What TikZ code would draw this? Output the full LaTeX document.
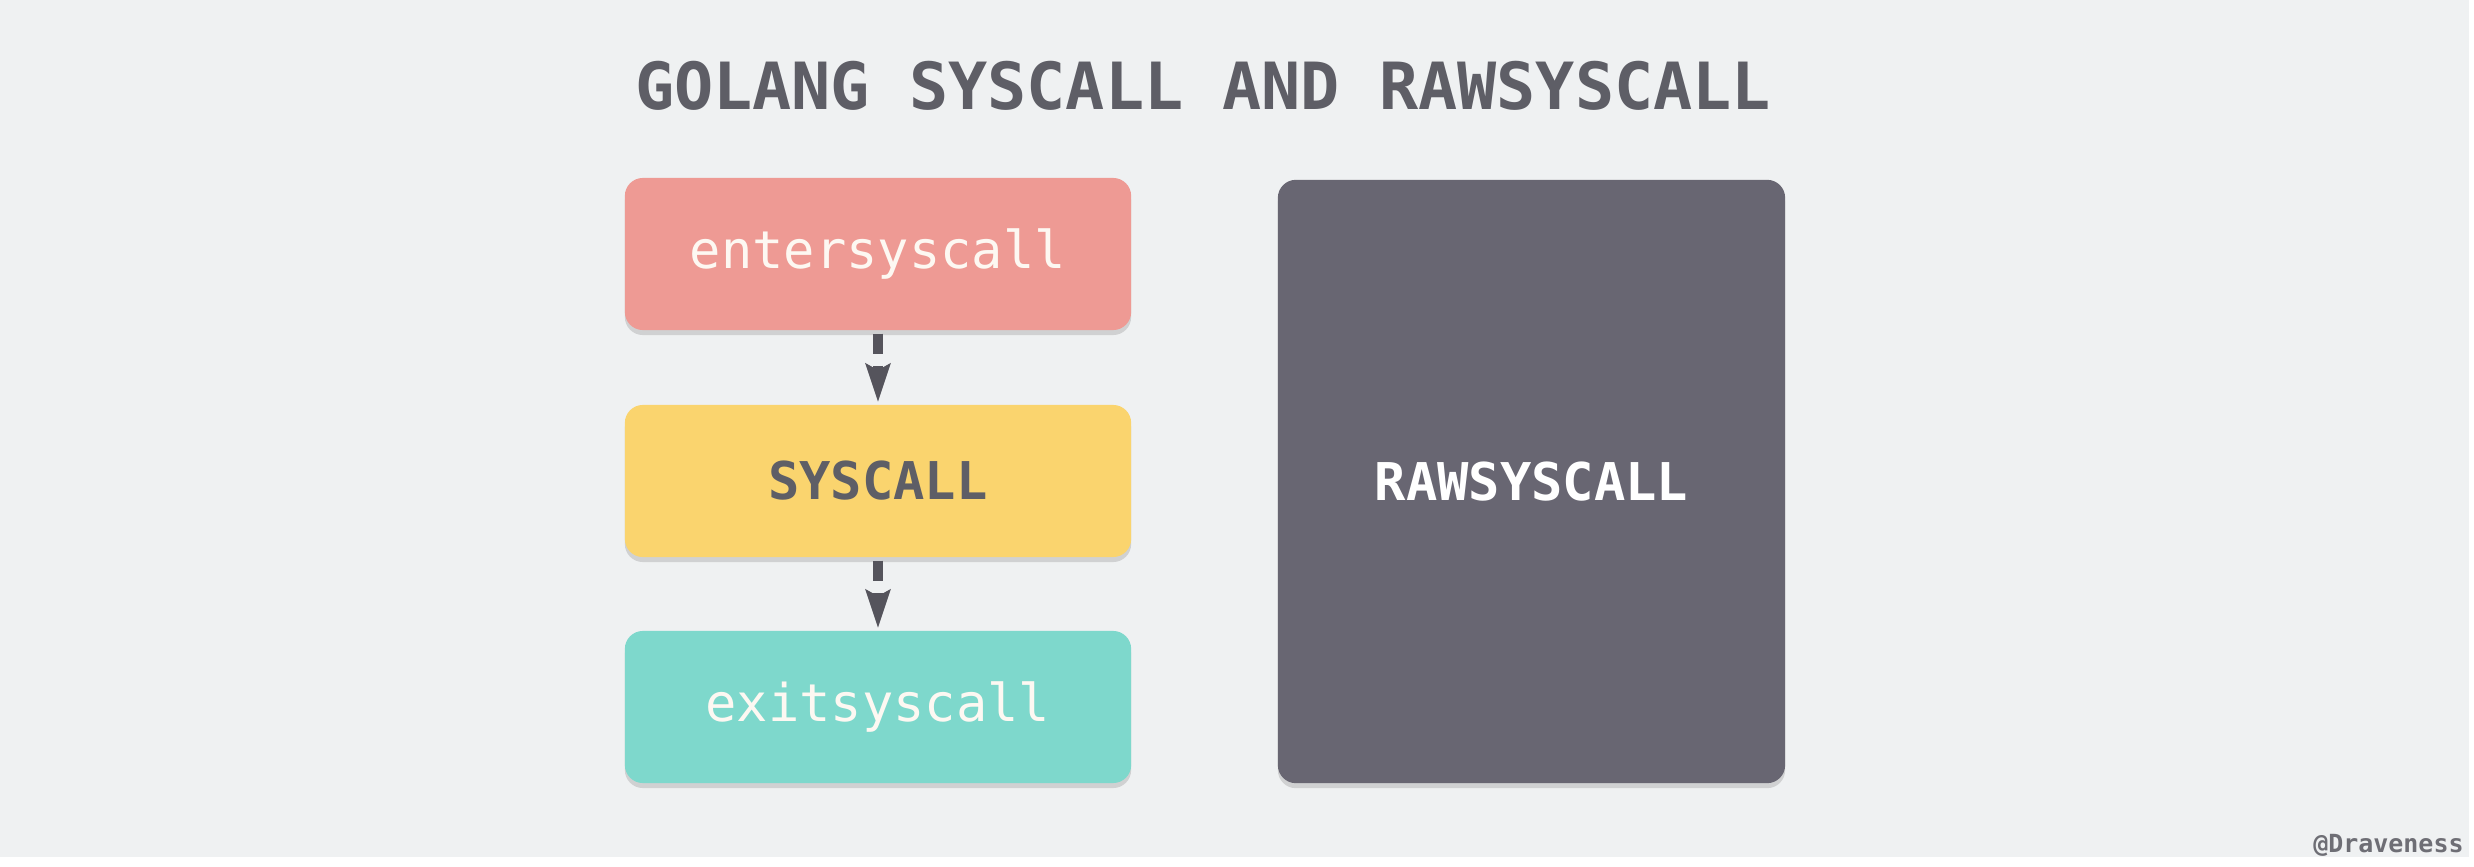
\documentclass[tikz,border=0pt]{standalone}
\usepackage[table]{xcolor}
\usepackage{tikz}
\usepackage{fontspec}
\usetikzlibrary{arrows.meta,shadows}
\newfontfamily\codefont{DejaVu Sans Mono}
\definecolor{bggray}{HTML}{EFF1F2}
\definecolor{titlegray}{HTML}{5E5E66}
\definecolor{entercol}{HTML}{EE9A94}
\definecolor{syscol}{HTML}{FAD46E}
\definecolor{exitcol}{HTML}{7ED8CC}
\definecolor{rawcol}{HTML}{686672}
\definecolor{arrowgray}{HTML}{55545C}
\definecolor{labelwhite}{HTML}{FDF8F2}

\begin{document}
\begin{tikzpicture}[x=0.01cm, y=0.01cm,
        callbox/.style={rounded corners=0.18cm, inner sep=0pt,
            minimum width=5.06cm, minimum height=1.52cm,
            drop shadow={shadow xshift=0cm, shadow yshift=-0.05cm, opacity=0.28},
            font=\codefont\fontsize{14.8}{16}\selectfont},
        callarrow/.style={line width=0.1cm, arrowgray, dash pattern=on 0.2cm off 0.12cm,
            -{Stealth[width=0.24cm, length=0.38cm, inset=0.06cm]}, shorten <=0.03cm, shorten >=0.02cm}]
        \fill [white]  (0,0) rectangle (2474,866);                   %
        \fill [bggray] (0,9) rectangle (2469,866);                   %
        \useasboundingbox (0,0) rectangle (2474,866);                %
        \node (title) [anchor=base, text=titlegray,
            font=\codefont\bfseries\fontsize{18.5}{20}\selectfont]
            at (1203,756) {GOLANG SYSCALL AND RAWSYSCALL};           %title
        \node (enter) [callbox, fill=entercol, text=labelwhite]
            at (878,612) {entersyscall};                             %enter
        \node (sys) [callbox, fill=syscol, text=titlegray, font=\codefont\bfseries\fontsize{14.8}{16}\selectfont]
            at (878,385) {SYSCALL};                                  %syscall
        \node (exit) [callbox, fill=exitcol, text=labelwhite]
            at (878,159) {exitsyscall};                              %exit
        \node (raw) [callbox, fill=rawcol, text=white, minimum height=6.03cm,
            minimum width=5.07cm, font=\codefont\bfseries\fontsize{14.8}{16}\selectfont]
            at (1531.5,384.5) {RAWSYSCALL};                          %raw
        \draw [callarrow] (enter.south) -- (sys.north);              %
        \draw [callarrow] (sys.south)   -- (exit.north);             %
        \node (mark) [anchor=base east, text=titlegray!90,
            font=\codefont\bfseries\fontsize{7.1}{8}\selectfont]
            at (2476,14) {@Draveness};                               %
\end{tikzpicture}
\end{document}
